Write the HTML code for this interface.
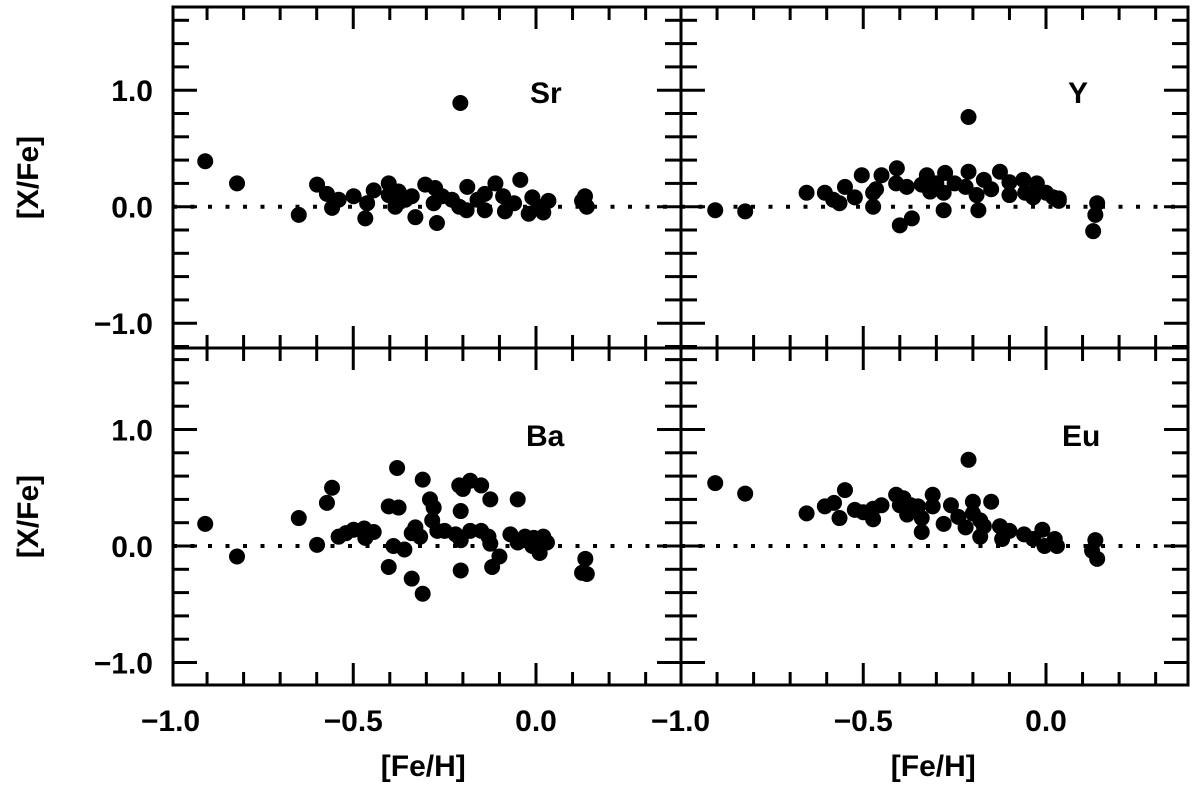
<!DOCTYPE html>
<html><head><meta charset="utf-8"><style>
html,body{margin:0;padding:0;background:#fff;}
svg{display:block;}
text{font-family:"Liberation Sans","DejaVu Sans",sans-serif;font-weight:bold;fill:#000;}
</style></head><body>
<svg id="chart" width="1200" height="793" viewBox="0 0 1200 793" xmlns="http://www.w3.org/2000/svg"></svg>
<script>
// ---- data ----
const feH_Sr = [-0.905,-0.818,-0.649,-0.599,-0.572,-0.558,-0.54,-0.499,-0.467,-0.462,-0.444,-0.403,-0.403,-0.376,-0.385,-0.357,-0.33,-0.34,-0.303,-0.276,-0.271,-0.28,-0.257,-0.23,-0.207,-0.21,-0.188,-0.19,-0.16,-0.14,-0.14,-0.111,-0.09,-0.085,-0.06,-0.043,-0.02,-0.01,0.006,0.02,0.034,0.126,0.134,0.139];
const xFe_Sr = [0.39,0.20,-0.07,0.19,0.11,-0.01,0.06,0.09,-0.10,0.03,0.14,0.20,0.10,0.13,0.0,0.06,-0.09,0.09,0.19,0.16,-0.14,0.03,0.09,0.06,0.89,0.0,0.17,-0.03,0.06,0.11,-0.03,0.20,0.09,-0.04,0.03,0.23,-0.06,0.08,0.0,-0.05,0.05,0.05,0.09,0.0];
const feH_Y = [-0.905,-0.823,-0.655,-0.605,-0.582,-0.565,-0.55,-0.523,-0.504,-0.473,-0.473,-0.465,-0.45,-0.408,-0.41,-0.381,-0.40,-0.367,-0.34,-0.326,-0.317,-0.30,-0.276,-0.28,-0.28,-0.25,-0.212,-0.212,-0.22,-0.19,-0.185,-0.17,-0.15,-0.126,-0.10,-0.10,-0.062,-0.057,-0.025,-0.035,0.0,0.02,0.035,0.035,0.129,0.135,0.14];
const xFe_Y = [-0.03,-0.04,0.12,0.12,0.06,0.03,0.17,0.08,0.27,0.12,0.0,0.15,0.27,0.33,0.20,0.17,-0.16,-0.10,0.19,0.27,0.13,0.20,0.29,0.12,-0.03,0.20,0.77,0.30,0.17,0.10,-0.03,0.23,0.15,0.30,0.21,0.10,0.23,0.12,0.20,0.08,0.12,0.08,0.07,0.05,-0.21,-0.07,0.03];
const feH_Ba = [-0.905,-0.818,-0.649,-0.599,-0.572,-0.558,-0.54,-0.52,-0.499,-0.47,-0.467,-0.444,-0.403,-0.403,-0.39,-0.38,-0.376,-0.36,-0.34,-0.34,-0.33,-0.317,-0.31,-0.31,-0.29,-0.28,-0.284,-0.27,-0.25,-0.21,-0.206,-0.206,-0.206,-0.22,-0.2,-0.18,-0.18,-0.15,-0.15,-0.13,-0.125,-0.125,-0.12,-0.10,-0.07,-0.05,-0.05,-0.03,-0.01,-0.006,0.01,0.02,0.03,0.126,0.135,0.139];
const xFe_Ba = [0.19,-0.09,0.24,0.01,0.37,0.50,0.08,0.11,0.14,0.15,0.07,0.12,0.34,-0.18,0.0,0.67,0.33,-0.03,0.11,-0.28,0.16,0.08,0.57,-0.41,0.40,0.33,0.22,0.13,0.13,0.52,0.30,0.05,-0.21,0.10,0.49,0.13,0.56,0.52,0.13,0.08,0.40,0.02,-0.18,-0.09,0.10,0.03,0.40,0.08,0.0,0.07,-0.06,0.08,0.03,-0.23,-0.11,-0.24];
const feH_Eu = [-0.905,-0.823,-0.655,-0.605,-0.58,-0.565,-0.55,-0.523,-0.50,-0.473,-0.473,-0.45,-0.41,-0.39,-0.40,-0.38,-0.37,-0.35,-0.34,-0.34,-0.31,-0.31,-0.28,-0.26,-0.24,-0.22,-0.212,-0.20,-0.2,-0.18,-0.18,-0.17,-0.15,-0.126,-0.12,-0.10,-0.06,-0.035,-0.01,-0.004,0.024,0.03,0.126,0.135,0.14];
const xFe_Eu = [0.54,0.45,0.28,0.34,0.37,0.24,0.48,0.31,0.29,0.23,0.32,0.35,0.44,0.41,0.35,0.27,0.35,0.34,0.24,0.12,0.44,0.34,0.19,0.35,0.25,0.16,0.74,0.38,0.28,0.22,0.08,0.17,0.38,0.17,0.06,0.13,0.10,0.06,0.14,0.0,0.06,0.0,-0.04,0.05,-0.11];
const panelLabels = ["Sr","Y","Ba","Eu"];
const xTickLabels = ["\u22121.0","\u22120.5","0.0"];
const xTickValues = [-1.0,-0.5,0.0];
const yTickLabels = ["1.0","0.0","\u22121.0"];
const yTickValues = [1.0,0.0,-1.0];

const NS="http://www.w3.org/2000/svg";
const svg=document.getElementById('chart');
function mk(tag,attrs,parent){const e=document.createElementNS(NS,tag);for(const k in attrs)e.setAttribute(k,attrs[k]);(parent||svg).appendChild(e);return e;}

const XS=365.5, YS=116.5;
const panels=[
 {x0:173,x1:681,y0:7,y1:348,zx:536,zy:206.7,xs:feH_Sr,ys:xFe_Sr,name:'sr',lx:530},
 {x0:681,x1:1188,y0:7,y1:348,zx:1046,zy:206.7,xs:feH_Y,ys:xFe_Y,name:'y',lx:1068},
 {x0:173,x1:681,y0:348,y1:685,zx:536,zy:546,xs:feH_Ba,ys:xFe_Ba,name:'ba',lx:526},
 {x0:681,x1:1188,y0:348,y1:685,zx:1046,zy:546,xs:feH_Eu,ys:xFe_Eu,name:'eu',lx:1062}
];

panels.forEach((p,i)=>{
  const g=mk('g',{});
  
  
  const sx=v=>p.zx+v*XS, sy=v=>p.zy-v*YS;
  const zl=mk('line',{x1:p.x0,x2:p.x1,y1:sy(0),y2:sy(0),stroke:'#000','stroke-width':4,'stroke-dasharray':'4 13.5'},g);
  
  
  p.xs.forEach((v,j)=>{
    const c=mk('circle',{cx:sx(v),cy:sy(p.ys[j]),r:8,fill:'#000'},g);
    
    
  });
  for(let k=-12;k<=17;k++){
    const v=k/10; if(v<-1.2||v>1.7) continue;
    if(Math.abs(k)%2!==0) continue;
    const y=sy(v); if(y<p.y0+1||y>p.y1-1) continue;
    const len=(k%10===0)?24:16;
    mk('line',{x1:p.x0,x2:p.x0+len,y1:y,y2:y,stroke:'#000','stroke-width':3},g);
    mk('line',{x1:p.x1,x2:p.x1-len,y1:y,y2:y,stroke:'#000','stroke-width':3},g);
  }
  for(let k=-10;k<=4;k++){
    const x=sx(k/10); if(x<p.x0+1||x>p.x1-1) continue;
    const len=(k%5===0)?22:13;
    mk('line',{x1:x,x2:x,y1:p.y1,y2:p.y1-len,stroke:'#000','stroke-width':3},g);
    mk('line',{x1:x,x2:x,y1:p.y0,y2:p.y0+len,stroke:'#000','stroke-width':3},g);
  }
  const fr=mk('rect',{x:p.x0,y:p.y0,width:p.x1-p.x0,height:p.y1-p.y0,fill:'none',stroke:'#000','stroke-width':3},g);
  
  
  const lb=mk('text',{x:p.lx,y:p.y0+(i<2?96:98),'font-size':30},g);
  lb.textContent=panelLabels[i];
  
  
  if(i%2===0){
    yTickValues.forEach((v,j)=>{
      const t=mk('text',{x:153,y:sy(v)+11,'font-size':30,'text-anchor':'end'},g);
      t.textContent=yTickLabels[j];
      
      
    });
    const yt=mk('text',{x:0,y:0,'font-size':30,'text-anchor':'middle',transform:`translate(38,${(p.y0+p.y1)/2}) rotate(-90)`},g);
    yt.textContent='[X/Fe]';
    
    
  }
  if(i>=2){
    xTickValues.forEach((v,j)=>{
      const t=mk('text',{x:sx(v),y:731,'font-size':30,'text-anchor':'middle'},g);
      t.textContent=xTickLabels[j];
      
      
    });
    const xt=mk('text',{x:sx(-0.5)+70,y:776,'font-size':30,'text-anchor':'middle'},g);
    xt.textContent='[Fe/H]';
    
    
  }
});
</script>
</body></html>
